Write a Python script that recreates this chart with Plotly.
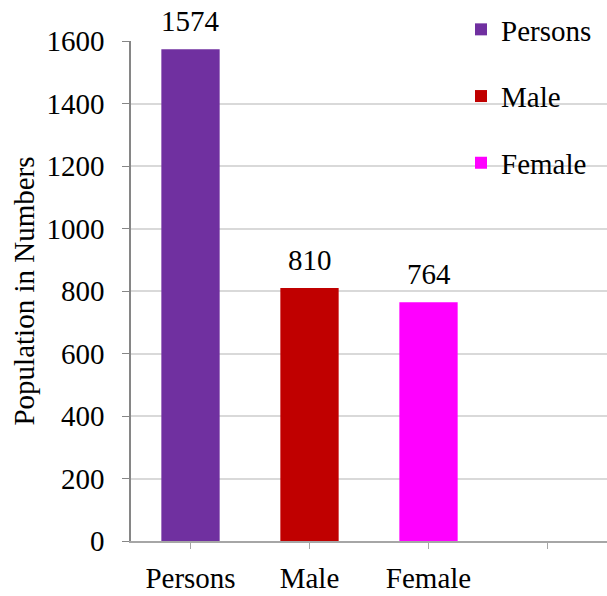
import plotly.graph_objects as go

categories = ["Persons", "Male", "Female"]
values = [1574, 810, 764]
colors = ["#7030A0", "#C00000", "#FF00FF"]
tick_labels = ["Persons", "Male", "Female", ""]
y_ticks = [0, 200, 400, 600, 800, 1000, 1200, 1400, 1600]

FONT = "Liberation Serif"
FS = 29

fig = go.Figure()
for i, (c, v, col) in enumerate(zip(categories, values, colors)):
    fig.add_trace(go.Bar(
        x=[i], y=[v], name=c, marker=dict(color=col, line=dict(width=0)),
        width=0.49, legendgroup=c, showlegend=True,
    ))
    fig.add_annotation(x=i, y=v, text=str(v), showarrow=False, yanchor="bottom",
                       yshift=10, font=dict(family=FONT, size=FS, color="#000"))

fig.update_layout(
    width=607, height=596,
    margin=dict(l=131, r=0, t=41, b=55, autoexpand=False),
    paper_bgcolor="white", plot_bgcolor="white",
    barmode="overlay",
    font=dict(family=FONT, size=FS, color="#000"),
    legend=dict(x=461 / 607, y=1 - 4 / 596, xref="container", yref="container",
                xanchor="left", yanchor="top",
                bgcolor="rgba(0,0,0,0)", tracegroupgap=26, traceorder="grouped",
                font=dict(family=FONT, size=FS, color="#000")),
    xaxis=dict(range=[-0.5, 3.5], tickmode="array", tickvals=[0, 1, 2, 3],
               ticktext=tick_labels, showline=True, linecolor="#A6A6A6", linewidth=1.5,
               ticks="outside", ticklen=6, tickcolor="#A6A6A6", showgrid=False,
               zeroline=False, tickfont=dict(family=FONT, size=FS),
               ticklabelstandoff=4),
    yaxis=dict(range=[0, 1600], tickmode="array", tickvals=y_ticks,
               showline=True, linecolor="#868686", linewidth=1.5,
               ticks="outside", ticklen=7, tickcolor="#868686",
               showgrid=True, gridcolor="#D9D9D9", gridwidth=1.5, zeroline=False,
               tickfont=dict(family=FONT, size=FS), ticklabelstandoff=12,
               title=dict(text="Population in Numbers", standoff=3,
                          font=dict(family=FONT, size=FS))),
)

fig.write_html("out.html", config={"displayModeBar": False},
               post_script="document.body.style.margin='0';")
